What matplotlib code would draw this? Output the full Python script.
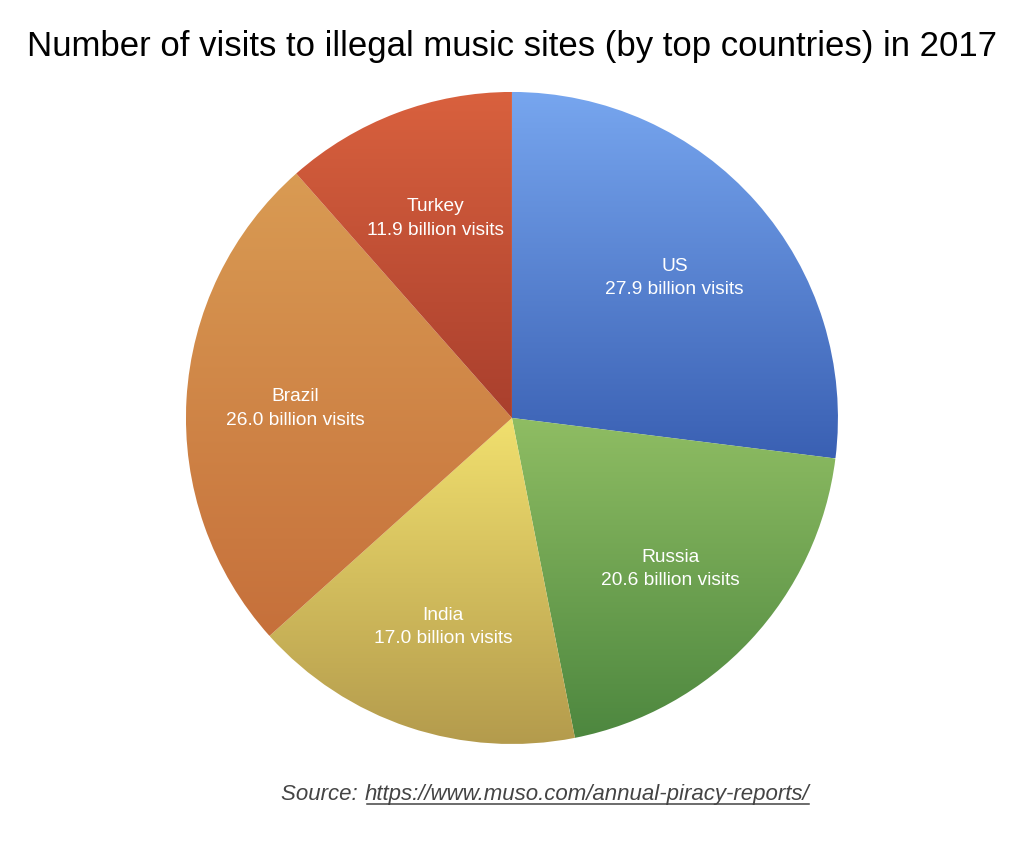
import numpy as np
import matplotlib
matplotlib.use("Agg")
import matplotlib.pyplot as plt
from matplotlib.colors import LinearSegmentedColormap

plt.rcParams['font.family'] = ['Liberation Sans', 'DejaVu Sans']

countries = ['US', 'Russia', 'India', 'Brazil', 'Turkey']
visits = [27.9, 20.6, 17.0, 26.0, 11.9]
# top / bottom colours of each wedge's gradient
top_colors = ['#77a6ef', '#8fbd63', '#f1e06e', '#d99b53', '#d9613e']
bottom_colors = ['#3a60b3', '#4d873f', '#b39a4c', '#c6703b', '#a93f2d']

fig = plt.figure(figsize=(10.24, 8.65), dpi=100)
ax = fig.add_axes([0.1816, 0.1399, 0.6367, 0.7538])

wedges, _ = ax.pie(visits, startangle=90, counterclock=False, radius=1,
                   wedgeprops=dict(linewidth=0, edgecolor='none', alpha=0))
ax.set_aspect('equal')
ax.axis('off')

grad = np.linspace(1, 0, 256).reshape(-1, 1)
for w, c1, c2, name, v in zip(wedges, top_colors, bottom_colors, countries, visits):
    verts = w.get_path().vertices
    x0, x1 = verts[:, 0].min(), verts[:, 0].max()
    y0, y1 = verts[:, 1].min(), verts[:, 1].max()
    cmap = LinearSegmentedColormap.from_list('g', [c2, c1])
    im = ax.imshow(grad, cmap=cmap, extent=[x0, x1, y0, y1], aspect='auto',
                   interpolation='bicubic', zorder=1)
    im.set_clip_path(w)
    mid = np.deg2rad((w.theta1 + w.theta2) / 2)
    r = 0.665
    ax.text(r * np.cos(mid), r * np.sin(mid) - 0.01, f"{name}\n{v:.1f} billion visits",
            ha='center', va='center', color='white', fontsize=13.8,
            linespacing=1.5, zorder=3)

ax.set_xlim(-1, 1)
ax.set_ylim(-1, 1)

fig.text(0.5, 0.946, "Number of visits to illegal music sites (by top countries) in 2017",
         ha='center', va='center', fontsize=25, color='black')

# source line with underlined link
src = fig.text(0.2749, 0.0815, "Source: ", ha='left', va='center', fontsize=16,
               style='italic', color='#444444')
fig.canvas.draw()
r = fig.canvas.get_renderer()
bb = src.get_window_extent(r)
url = fig.text(bb.x1 / fig.bbox.width, 0.0815, "https://www.muso.com/annual-piracy-reports/",
               ha='left', va='center', fontsize=16, style='italic', color='#444444')
fig.canvas.draw()
ub = url.get_window_extent(r)
uy = (ub.y0 + 1.5) / fig.bbox.height
fig.add_artist(plt.Line2D([ub.x0 / fig.bbox.width + 0.003, ub.x1 / fig.bbox.width], [uy, uy],
                          transform=fig.transFigure, color='#444444', linewidth=1.1))

fig.savefig('out.png', dpi=100)
